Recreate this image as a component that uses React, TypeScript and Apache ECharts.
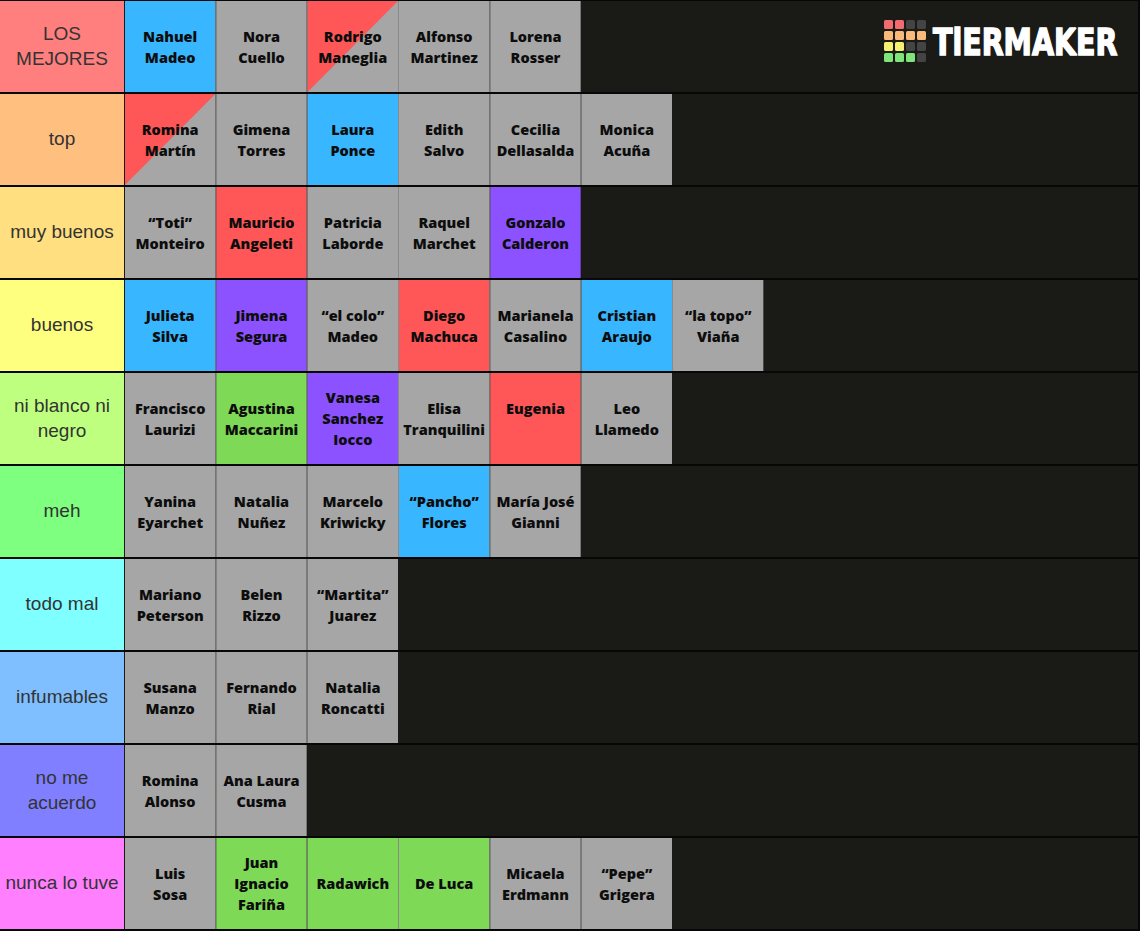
import React, { useEffect, useRef } from "react";
import * as echarts from "echarts";

// ---- data ----
const tierNames = [
  "LOS\nMEJORES",
  "top",
  "muy buenos",
  "buenos",
  "ni blanco ni\nnegro",
  "meh",
  "todo mal",
  "infumables",
  "no me\nacuerdo",
  "nunca lo tuve",
];
const tierColors = [
  "#ff7f7f", "#ffbf7f", "#ffdf7f", "#ffff7f", "#bfff7f",
  "#7fff7f", "#7fffff", "#7fbfff", "#7f7fff", "#ff7fff",
];

const tierLosMejores = [
  ["Nahuel\nMadeo", "blue"],
  ["Nora\nCuello", "gray"],
  ["Rodrigo\nManeglia", "split"],
  ["Alfonso\nMartinez", "gray"],
  ["Lorena\nRosser", "gray"],
];
const tierTop = [
  ["Romina\nMartín", "split"],
  ["Gimena\nTorres", "gray"],
  ["Laura\nPonce", "blue"],
  ["Edith\nSalvo", "gray"],
  ["Cecilia\nDellasalda", "gray"],
  ["Monica\nAcuña", "gray"],
];
const tierMuyBuenos = [
  ["“Toti”\nMonteiro", "gray"],
  ["Mauricio\nAngeleti", "red"],
  ["Patricia\nLaborde", "gray"],
  ["Raquel\nMarchet", "gray"],
  ["Gonzalo\nCalderon", "purple"],
];
const tierBuenos = [
  ["Julieta\nSilva", "blue"],
  ["Jimena\nSegura", "purple"],
  ["“el colo”\nMadeo", "gray"],
  ["Diego\nMachuca", "red"],
  ["Marianela\nCasalino", "gray"],
  ["Cristian\nAraujo", "blue"],
  ["“la topo”\nViaña", "gray"],
];
const tierNiBlanco = [
  ["Francisco\nLaurizi", "gray"],
  ["Agustina\nMaccarini", "green"],
  ["Vanesa\nSanchez\nIocco", "purple"],
  ["Elisa\nTranquilini", "gray"],
  ["Eugenia\n ", "red"],
  ["Leo\nLlamedo", "gray"],
];
const tierMeh = [
  ["Yanina\nEyarchet", "gray"],
  ["Natalia\nNuñez", "gray"],
  ["Marcelo\nKriwicky", "gray"],
  ["“Pancho”\nFlores", "blue"],
  ["María José\nGianni", "gray"],
];
const tierTodoMal = [
  ["Mariano\nPeterson", "gray"],
  ["Belen\nRizzo", "gray"],
  ["“Martita”\nJuarez", "gray"],
];
const tierInfumables = [
  ["Susana\nManzo", "gray"],
  ["Fernando\nRial", "gray"],
  ["Natalia\nRoncatti", "gray"],
];
const tierNoMeAcuerdo = [
  ["Romina\nAlonso", "gray"],
  ["Ana Laura\nCusma", "gray"],
];
const tierNunca = [
  ["Luis\nSosa", "gray"],
  ["Juan\nIgnacio\nFariña", "green"],
  ["Radawich", "green"],
  ["De Luca", "green"],
  ["Micaela\nErdmann", "gray"],
  ["“Pepe”\nGrigera", "gray"],
];

const tierItems = [
  tierLosMejores, tierTop, tierMuyBuenos, tierBuenos, tierNiBlanco,
  tierMeh, tierTodoMal, tierInfumables, tierNoMeAcuerdo, tierNunca,
];

// ---- styles ----
const palette: Record<string, string> = {
  blue: "#38b6ff",
  gray: "#a6a6a6",
  red: "#ff5757",
  purple: "#8c52ff",
  green: "#7ed957",
};

const W = 1140;
const H = 931;
const PITCH = 274 / 3; // px per column unit
const LABEL_UNITS = 125 / PITCH;
const GRID_W = 1138;
const X_MIN = -LABEL_UNITS;
const X_MAX = X_MIN + GRID_W / PITCH;

const logoGrid = [
  ["#f26b70", "#f26b70", "#444444", "#444444"],
  ["#f8b97b", "#f8b97b", "#f8b97b", "#f8b97b"],
  ["#f4f070", "#f4f070", "#444444", "#444444"],
  ["#7fe57a", "#7fe57a", "#7fe57a", "#444444"],
];

export default function App() {
  const ref = useRef<HTMLDivElement>(null);

  useEffect(() => {
    document.body.style.margin = "0";
    if (!ref.current) return;
    const chart = echarts.init(ref.current, null, { renderer: "svg" });

    const flat: { col: number; tier: number; name: string; kind: string }[] = [];
    tierItems.forEach((items, t) => {
      items.forEach((it, c) => flat.push({ col: c, tier: t, name: it[0], kind: it[1] }));
    });

    const logoEls: any[] = [];
    logoGrid.forEach((row, r) => {
      row.forEach((color, c) => {
        logoEls.push({
          type: "rect",
          z: 100,
          shape: { x: 884 + c * 11, y: 20 + r * 11, width: 9, height: 9, r: 1.5 },
          style: { fill: color },
        });
      });
    });
    logoEls.push({
      type: "text",
      z: 100,
      x: 933,
      y: 42,
      scaleX: 0.75,
      scaleY: 1,
      style: {
        text: "TiERMAKER",
        fill: "#ffffff",
        stroke: "#ffffff",
        lineWidth: 1.6,
        font: "bold 38px 'DejaVu Sans'",
        align: "left",
        verticalAlign: "middle",
      },
    });

    chart.setOption({
      animation: false,
      backgroundColor: "#070707",
      grid: { left: 0, top: 1, width: GRID_W, height: 930 },
      xAxis: { type: "value", min: X_MIN, max: X_MAX, show: false },
      yAxis: { type: "category", data: tierNames, inverse: true, show: false },
      graphic: { elements: logoEls },
      series: [
        {
          type: "custom",
          silent: true,
          z: 1,
          data: tierNames.map((_, i) => [0, i]),
          renderItem: (params: any, api: any) => {
            const t = api.value(1);
            const c = api.coord([0, t]);
            const bandH = api.size([0, 1])[1];
            const cs = params.coordSys;
            return {
              type: "rect",
              shape: { x: cs.x, y: c[1] - bandH / 2, width: cs.width, height: bandH - 2 },
              style: { fill: "#1a1a17" },
            };
          },
        },
        {
          type: "custom",
          silent: true,
          z: 2,
          data: tierNames.map((_, i) => [X_MIN, i]),
          renderItem: (params: any, api: any) => {
            const t = api.value(1);
            const p0 = api.coord([X_MIN, t]);
            const p1 = api.coord([0, t]);
            const bandH = api.size([0, 1])[1];
            const y = p0[1] - bandH / 2;
            return {
              type: "group",
              children: [
                {
                  type: "rect",
                  shape: { x: p0[0], y, width: p1[0] - p0[0] - 1, height: bandH - 2 },
                  style: { fill: tierColors[t] },
                },
                {
                  type: "text",
                  style: {
                    text: tierNames[t],
                    x: (p0[0] + p1[0] - 1) / 2,
                    y: y + (bandH - 2) / 2 - 1,
                    align: "center",
                    verticalAlign: "middle",
                    fill: "#333333",
                    font: "19px 'Liberation Sans'",
                    lineHeight: 25,
                  },
                },
              ],
            };
          },
        },
        {
          type: "custom",
          silent: true,
          z: 2,
          data: flat.map((d) => [d.col, d.tier]),
          renderItem: (params: any, api: any) => {
            const d = flat[params.dataIndex];
            const col = api.value(0);
            const t = api.value(1);
            const p0 = api.coord([col, t]);
            const p1 = api.coord([col + 1, t]);
            const bandH = api.size([0, 1])[1];
            const x = p0[0];
            const w = p1[0] - p0[0] - 1;
            const y = p0[1] - bandH / 2;
            const h = bandH - 2;
            const children: any[] = [];
            if (col > 0) {
              children.push({
                type: "rect",
                shape: { x: x - 1, y, width: 1, height: h },
                style: { fill: "#8a8a8a" },
              });
            }
            if (d.kind === "split") {
              children.push({
                type: "rect",
                shape: { x, y, width: w, height: h },
                style: { fill: palette.gray },
              });
              children.push({
                type: "polygon",
                shape: { points: [[x, y], [x + w, y], [x, y + h]] },
                style: { fill: palette.red },
              });
            } else {
              children.push({
                type: "rect",
                shape: { x, y, width: w, height: h },
                style: { fill: palette[d.kind] },
              });
            }
            children.push({
              type: "text",
              style: {
                text: d.name,
                x: x + w / 2,
                y: y + h / 2,
                align: "center",
                verticalAlign: "middle",
                fill: "#0d0d0d",
                font: "800 14.5px 'Open Sans'",
                lineHeight: 21,
              },
            });
            return { type: "group", children };
          },
        },
      ],
    });

    return () => chart.dispose();
  }, []);

  return <div ref={ref} style={{ width: W, height: H }} />;
}
